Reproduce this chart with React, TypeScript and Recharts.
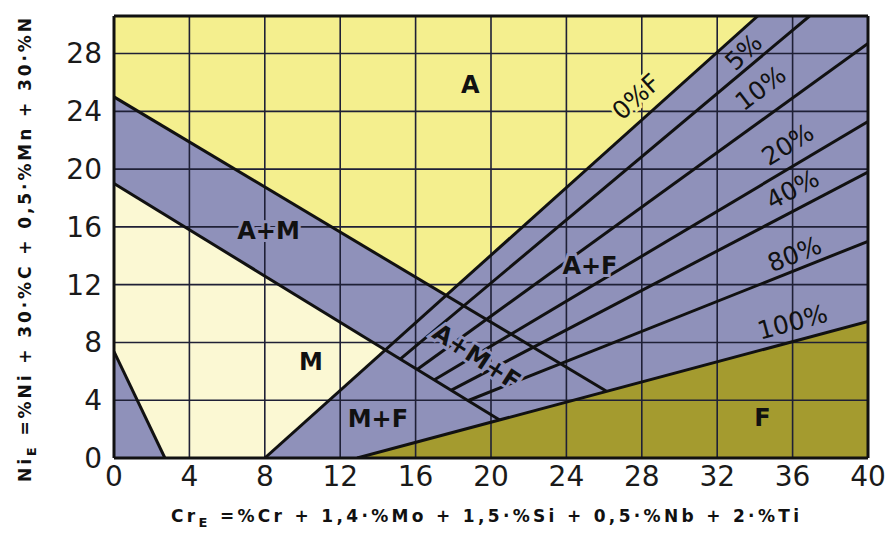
import { ComposedChart, Area, XAxis, YAxis, ReferenceLine, ReferenceDot } from 'recharts';

const Y_MAX = 30.6;

const crTicks = [0, 4, 8, 12, 16, 20, 24, 28, 32, 36, 40];
const niTicks = [0, 4, 8, 12, 16, 20, 24, 28];

// phase fields, ni = [lower edge, upper edge]
const mixedField = [
  { cr: 0, ni: [0, Y_MAX] },
  { cr: 40, ni: [0, Y_MAX] },
];
const austeniteField = [
  { cr: 0, ni: [25, Y_MAX] },
  { cr: 17.62, ni: [11.26, Y_MAX] },
  { cr: 34.15, ni: [Y_MAX, Y_MAX] },
];
const martensiteField = [
  { cr: 0, ni: [7.37, 19] },
  { cr: 2.7, ni: [0, 16.84] },
  { cr: 8, ni: [0, 12.6] },
  { cr: 14.4, ni: [7.48, 7.48] },
];
const ferriteField = [
  { cr: 12.9, ni: [0, 0] },
  { cr: 40, ni: [0, 9.45] },
];

// phase boundaries
const austeniteLimit = [{ x: 0, y: 25 }, { x: 26.13, y: 4.62 }];
const martensiteLimit = [{ x: 0, y: 19 }, { x: 20.46, y: 2.63 }];
const cornerLimit = [{ x: 0, y: 7.37 }, { x: 2.7, y: 0 }];

// ferrite content lines
const ferrite0 = [{ x: 8, y: 0 }, { x: 34.15, y: Y_MAX }];
const ferrite5 = [{ x: 15.2, y: 6.86 }, { x: 36.9, y: Y_MAX }];
const ferrite10 = [{ x: 16.1, y: 6.14 }, { x: 40, y: 28.7 }];
const ferrite20 = [{ x: 17.0, y: 5.42 }, { x: 40, y: 23.3 }];
const ferrite40 = [{ x: 17.9, y: 4.7 }, { x: 40, y: 19.8 }];
const ferrite80 = [{ x: 18.8, y: 3.98 }, { x: 40, y: 15.0 }];
const ferrite100 = [{ x: 12.9, y: 0 }, { x: 40, y: 9.45 }];

const boundaries = [
  austeniteLimit, martensiteLimit, cornerLimit,
  ferrite0, ferrite5, ferrite10, ferrite20, ferrite40, ferrite80, ferrite100,
];

const YELLOW = '#f4ef8e';
const CREAM = '#fbf8d3';
const BLUE = '#8f91ba';
const OLIVE = '#a49b2f';
const GRID = '#1f2036';
const INK = '#111111';

type Tag = { text: string; cr: number; ni: number; angle: number; bold: boolean; halo?: string };

const phaseTags: Tag[] = [
  { text: 'A', cr: 18.9, ni: 25.8, angle: 0, bold: true },
  { text: 'A+M', cr: 8.2, ni: 15.7, angle: 0, bold: true, halo: BLUE },
  { text: 'M', cr: 10.45, ni: 6.65, angle: 0, bold: true },
  { text: 'M+F', cr: 14.0, ni: 2.7, angle: 0, bold: true, halo: BLUE },
  { text: 'A+F', cr: 25.25, ni: 13.3, angle: 0, bold: true, halo: BLUE },
  { text: 'F', cr: 34.4, ni: 2.8, angle: 0, bold: true, halo: OLIVE },
  { text: 'A+M+F', cr: 19.24, ni: 7.0, angle: 33, bold: true, halo: BLUE },
  { text: '0%F', cr: 27.7, ni: 25.0, angle: -42, bold: false, halo: YELLOW },
  { text: '5%', cr: 33.4, ni: 28.1, angle: -44, bold: false },
  { text: '10%', cr: 34.3, ni: 25.6, angle: -37, bold: false },
  { text: '20%', cr: 35.75, ni: 21.7, angle: -32, bold: false },
  { text: '40%', cr: 36.0, ni: 18.6, angle: -28, bold: false },
  { text: '80%', cr: 36.1, ni: 14.1, angle: -22, bold: false },
  { text: '100%', cr: 36.0, ni: 9.4, angle: -15, bold: false },
];

const renderTag = (tag: Tag) => (props: any) => {
  const vb = props.viewBox || {};
  const cx = (vb.x ?? props.cx ?? 0) + (vb.width ?? 0) / 2;
  const cy = (vb.y ?? props.cy ?? 0) + (vb.height ?? 0) / 2;
  return (
    <text
      x={cx}
      y={cy}
      textAnchor="middle"
      dominantBaseline="central"
      transform={`rotate(${tag.angle} ${cx} ${cy})`}
      fontFamily="DejaVu Sans"
      fontWeight={tag.bold ? 700 : 400}
      fontSize={tag.bold ? 24 : 25}
      fill={INK}
      stroke={tag.halo ?? 'none'}
      strokeWidth={tag.halo ? 6 : 0}
      paintOrder="stroke"
    >
      {tag.text}
    </text>
  );
};

const XTitle = (props: any) => {
  const vb = props.viewBox || { x: 114, y: 458, width: 754, height: 75 };
  const cx = vb.x + vb.width / 2 - 6;
  const y = vb.y + 64;
  return (
    <text x={cx} y={y} textAnchor="middle" fontFamily="DejaVu Sans" fontWeight={700} fontSize={17}
      fill={INK} textLength={628} lengthAdjust="spacing">
      Cr<tspan dy={5} fontSize={13}>E</tspan><tspan dy={-5}> =%Cr + 1,4·%Mo + 1,5·%Si + 0,5·%Nb + 2·%Ti</tspan>
    </text>
  );
};

const YTitle = (props: any) => {
  const vb = props.viewBox || { x: 0, y: 16, width: 114, height: 442 };
  const cx = 25;
  const cy = vb.y + vb.height / 2 + 13;
  return (
    <text x={cx} y={cy} textAnchor="middle" dominantBaseline="central" transform={`rotate(-90 ${cx} ${cy})`}
      fontFamily="DejaVu Sans" fontWeight={700} fontSize={17} fill={INK} textLength={464} lengthAdjust="spacing">
      Ni<tspan dy={6} fontSize={13}>E</tspan><tspan dy={-6}> =%Ni + 30·%C + 0,5·%Mn + 30·%N</tspan>
    </text>
  );
};

const tickStyle = { fontFamily: 'DejaVu Sans', fontSize: 28, fill: '#1a1a1a' };

export default function App() {
  return (
    <div style={{ position: 'absolute', left: 0, top: 0, width: 895, height: 533, background: '#fff' }}>
      <ComposedChart width={895} height={533} margin={{ top: 16, right: 27, bottom: 0, left: 0 }}>
        <XAxis
          type="number"
          dataKey="cr"
          domain={[0, 40]}
          ticks={crTicks}
          allowDataOverflow
          height={75}
          axisLine={false}
          tickLine={false}
          tickMargin={2}
          tick={tickStyle}
          interval={0}
          label={{ content: XTitle }}
        />
        <YAxis
          type="number"
          domain={[0, Y_MAX]}
          ticks={niTicks}
          allowDataOverflow
          width={114}
          axisLine={false}
          tickLine={false}
          tickMargin={6}
          tick={tickStyle}
          interval={0}
          label={{ content: YTitle }}
        />

        <Area data={mixedField} dataKey="ni" type="linear" fill={BLUE} fillOpacity={1} stroke="none" dot={false} activeDot={false} isAnimationActive={false} />
        <Area data={austeniteField} dataKey="ni" type="linear" fill={YELLOW} fillOpacity={1} stroke="none" dot={false} activeDot={false} isAnimationActive={false} />
        <Area data={martensiteField} dataKey="ni" type="linear" fill={CREAM} fillOpacity={1} stroke="none" dot={false} activeDot={false} isAnimationActive={false} />
        <Area data={ferriteField} dataKey="ni" type="linear" fill={OLIVE} fillOpacity={1} stroke="none" dot={false} activeDot={false} isAnimationActive={false} />

        {crTicks.slice(1, -1).map((v) => (
          <ReferenceLine key={`gx${v}`} x={v} stroke={GRID} strokeWidth={1.6} />
        ))}
        {niTicks.slice(1).map((v) => (
          <ReferenceLine key={`gy${v}`} y={v} stroke={GRID} strokeWidth={1.6} />
        ))}

        {boundaries.map((seg, i) => (
          <ReferenceLine key={`b${i}`} segment={seg} stroke={INK} strokeWidth={3} ifOverflow="hidden" />
        ))}

        <ReferenceLine x={0} stroke={INK} strokeWidth={3} />
        <ReferenceLine x={40} stroke={INK} strokeWidth={3} />
        <ReferenceLine y={0} stroke={INK} strokeWidth={3} />
        <ReferenceLine y={Y_MAX} stroke={INK} strokeWidth={3} />

        {phaseTags.map((t) => (
          <ReferenceDot key={t.text} x={t.cr} y={t.ni} r={0} fill="none" stroke="none" label={renderTag(t)} />
        ))}
      </ComposedChart>
    </div>
  );
}
